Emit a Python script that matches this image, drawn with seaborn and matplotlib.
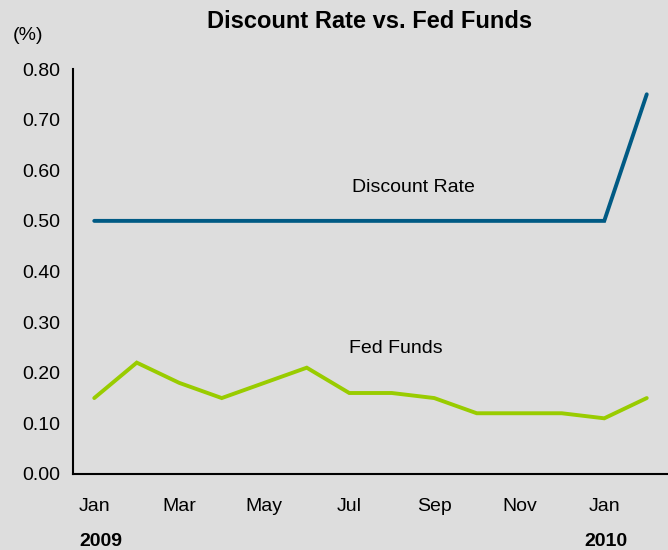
import matplotlib
matplotlib.use("Agg")
import matplotlib.pyplot as plt
import matplotlib.transforms as mtransforms
import seaborn as sns
import pandas as pd

months = ["Jan", "Feb", "Mar", "Apr", "May", "Jun", "Jul", "Aug", "Sep", "Oct", "Nov", "Dec", "Jan", "Feb"]
discount_rate = [0.50, 0.50, 0.50, 0.50, 0.50, 0.50, 0.50, 0.50, 0.50, 0.50, 0.50, 0.50, 0.50, 0.75]
fed_funds = [0.15, 0.22, 0.18, 0.15, 0.18, 0.21, 0.16, 0.16, 0.15, 0.12, 0.12, 0.12, 0.11, 0.15]
tick_labels = ["Jan", "Mar", "May", "Jul", "Sep", "Nov", "Jan"]
yticks = [0.0, 0.1, 0.2, 0.3, 0.4, 0.5, 0.6, 0.7, 0.8]
years = ["2009", "2010"]

bg = "#dddddd"
sns.set_style("white")
plt.rcParams["font.family"] = ["Liberation Sans", "DejaVu Sans"]
plt.rcParams["text.color"] = "black"
plt.rcParams["xtick.color"] = "black"
plt.rcParams["ytick.color"] = "black"

df = pd.DataFrame({
    "idx": list(range(len(months))) * 2,
    "value": discount_rate + fed_funds,
    "series": ["Discount Rate"] * len(months) + ["Fed Funds"] * len(months),
})

fig = plt.figure(figsize=(6.68, 5.5), dpi=100, facecolor=bg)
ax = fig.add_axes([73 / 668, 1 - 474 / 550, 1 - 73 / 668, (474 - 69) / 550])
ax.set_facecolor(bg)

sns.lineplot(data=df, x="idx", y="value", hue="series",
             palette={"Discount Rate": "#005a84", "Fed Funds": "#99cc00"},
             linewidth=2.8, ax=ax, legend=False)
for l in ax.lines:
    l.set_solid_capstyle("round")
    l.set_solid_joinstyle("miter")

fs = 14
ax.set_xlim(-0.5, 13.5)
ax.set_ylim(0, 0.8)
ax.set_yticks(yticks)
ax.set_yticklabels([f"{v:.2f}" for v in yticks], fontsize=fs)
ax.set_xticks([0, 2, 4, 6, 8, 10, 12])
ax.set_xticklabels(tick_labels, fontsize=fs)
ax.tick_params(axis="y", length=0, pad=9)
ax.tick_params(axis="x", length=0, pad=17)
ax.set_xlabel("")
ax.set_ylabel("")

for s in ["top", "right"]:
    ax.spines[s].set_visible(False)
for s in ["left", "bottom"]:
    ax.spines[s].set_color("black")
    ax.spines[s].set_linewidth(1.5)

trans = mtransforms.blended_transform_factory(ax.transData, fig.transFigure)
ax.text(0.15, 1 - 541 / 550, years[0], transform=trans, ha="center", va="center",
        fontsize=fs, fontweight="bold")
ax.text(12.05, 1 - 541 / 550, years[1], transform=trans, ha="center", va="center",
        fontsize=fs, fontweight="bold")

ax.text(7.52, 0.565, "Discount Rate", ha="center", va="center", fontsize=fs)
ax.text(7.1, 0.247, "Fed Funds", ha="center", va="center", fontsize=fs)

fig.text(370 / 668, 1 - 21 / 550, "Discount Rate vs. Fed Funds", ha="center", va="center",
         fontsize=17, fontweight="bold")
fig.text(28 / 668, 1 - 36 / 550, "(%)", ha="center", va="center", fontsize=fs)

fig.savefig("out.png", dpi=100, facecolor=bg)
